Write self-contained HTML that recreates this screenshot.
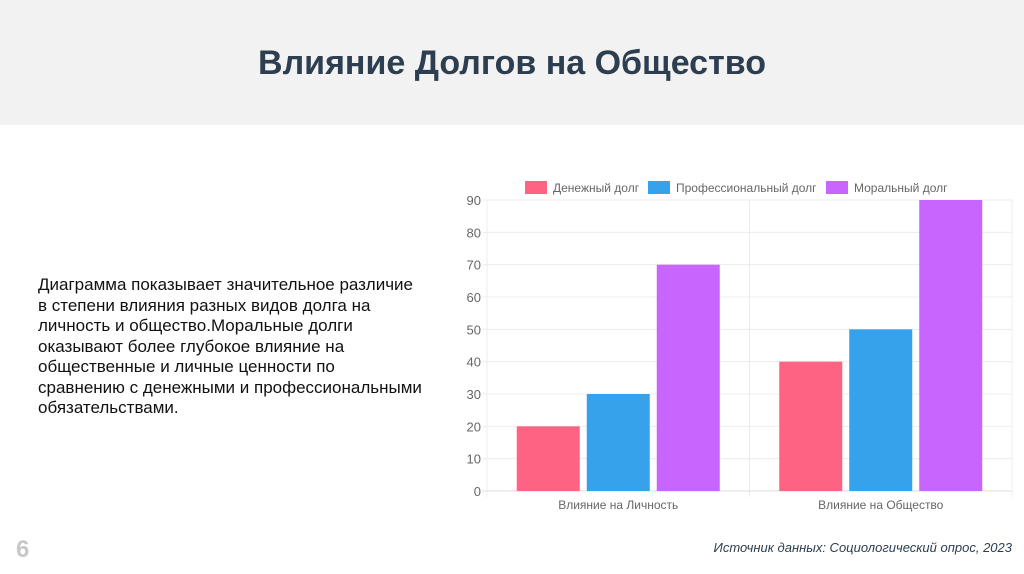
<!DOCTYPE html>
<html><head><meta charset="utf-8"><style>
body{margin:0;width:1024px;height:574px;background:#fff;font-family:"Liberation Sans",sans-serif;position:relative;overflow:hidden}
.hdr{position:absolute;left:0;top:0;width:1024px;height:125px;background:#f2f2f2}
.hdr h1{margin:0;position:absolute;top:44px;width:100%;text-align:center;font-size:34px;font-weight:bold;color:#2c3e50}
.desc{position:absolute;left:38px;top:275px;width:420px;font-size:17px;line-height:20.5px;color:#111;white-space:nowrap}
.pg{position:absolute;left:16px;top:536px;font-size:24px;color:#c8c8c8;font-weight:bold}
.src{position:absolute;right:12px;top:540px;font-size:13px;font-style:italic;color:#2c3e50}
svg{position:absolute;left:0;top:0}
</style></head><body>
<div class="hdr"><h1>Влияние Долгов на Общество</h1></div>
<div class="desc">Диаграмма показывает значительное различие<br>в степени влияния разных видов долга на<br>личность и общество.Моральные долги<br>оказывают более глубокое влияние на<br>общественные и личные ценности по<br>сравнению с денежными и профессиональными<br>обязательствами.</div>
<div class="pg">6</div>
<div class="src">Источник данных: Социологический опрос, 2023</div>
<svg id="chart" width="1024" height="574"></svg>
<script>
const categories=["Влияние на Личность","Влияние на Общество"];
const seriesNames=["Денежный долг","Профессиональный долг","Моральный долг"];
const money=[20,40];
const prof=[30,50];
const moral=[70,90];
const yTicks=[0,10,20,30,40,50,60,70,80,90];
const colors=["#ff6384","#36a2eb","#c965ff"];
const svg=document.getElementById('chart');
const NS='http://www.w3.org/2000/svg';
const L=487,R=1012,T=200,B=491,yMax=90;
const y=v=>B-(v/yMax)*(B-T);
const catW=(R-L)/categories.length;
const x=i=>L+i*catW;
function mk(tag,attrs){const e=document.createElementNS(NS,tag);for(const k in attrs)e.setAttribute(k,attrs[k]);svg.appendChild(e);return e;}
yTicks.forEach(t=>{
  const g=mk('line',{x1:L-5,x2:R,y1:y(t),y2:y(t),stroke:t===0?'#ddd':'#ececec','stroke-width':1});
  
  
  const tx=mk('text',{x:L-6,y:y(t)+5,'text-anchor':'end','font-size':13,fill:'#666','font-family':'Liberation Sans, sans-serif'});
  tx.textContent=t;
  
  
});
for(let i=0;i<=categories.length;i++){
  const l=mk('line',{x1:x(i),x2:x(i),y1:T,y2:B+6,stroke:'#ececec','stroke-width':1});
  
  
}
const series=[money,prof,moral];
const bw=63,gap=7,pad=(catW-(3*bw+2*gap))/2;
categories.forEach((c,i)=>{
  series.forEach((s,j)=>{
    const bx=x(i)+pad+j*(bw+gap);
    const r=mk('rect',{x:bx,y:y(s[i]),width:bw,height:B-y(s[i]),fill:colors[j]});
    
    
  });
  const t=mk('text',{x:x(i)+catW/2,y:B+18,'text-anchor':'middle','font-size':12,fill:'#666','font-family':'Liberation Sans, sans-serif'});
  t.textContent=c;
  
  
});
const legX=[525,648,826];
seriesNames.forEach((n,j)=>{
  const r=mk('rect',{x:legX[j],y:181,width:22,height:13,fill:colors[j]});
  
  
  const t=mk('text',{x:legX[j]+28,y:192,'font-size':12,fill:'#666','font-family':'Liberation Sans, sans-serif'});
  t.textContent=n;
  
  
});
</script>
</body></html>
